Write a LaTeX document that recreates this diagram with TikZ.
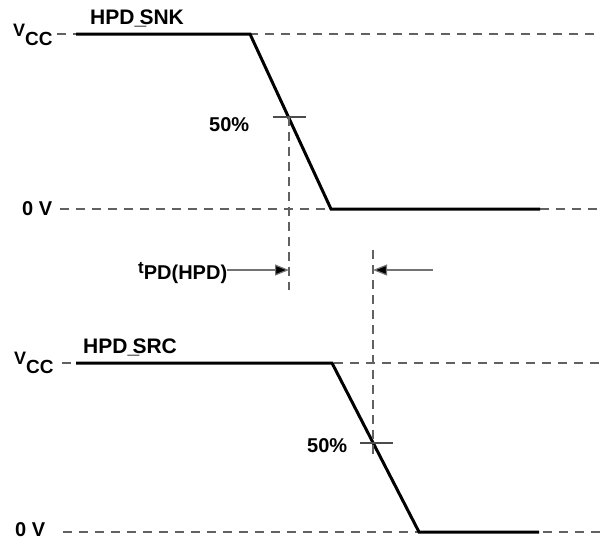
\documentclass[tikz,border=0pt]{standalone}
\usepackage{fontspec}
\setmainfont{Liberation Sans}
\usetikzlibrary{arrows.meta}
\begin{document}
\begin{tikzpicture}[x=1pt,y=-1pt,
  sig/.style={draw=black, line width=3pt, line join=miter},
  refline/.style={draw=black!62, line width=1.4pt, dash pattern=on 9pt off 7pt},
  guide/.style={draw=black!62, line width=1.2pt, dash pattern=on 9pt off 6pt},
  tickmark/.style={draw=black!70, line width=2pt},
  lbl/.style={inner sep=0pt, font=\bfseries\fontsize{20}{20}\selectfont, text=black},
  arr/.style={draw=black!55, line width=1.2pt, -{Triangle[length=14pt,width=11pt,fill=black]}},
]
\useasboundingbox (0,0) rectangle (601,544);

% ---------- top waveform (HPD_SNK) ----------
\coordinate (tvccL) at (57,34);  \coordinate (tvccR) at (601,34);
\coordinate (tgndL) at (60,209); \coordinate (tgndR) at (601,209);
\draw[refline] (tvccL) -- (tvccR);
\draw[refline] (tgndL) -- (tgndR);
\coordinate (s1) at (76,34);  \coordinate (s2) at (250,34);
\coordinate (s3) at (331,209); \coordinate (s4) at (540,209);
\draw[sig] (s1) -- (s2) -- (s3) -- (s4);
\coordinate (tk1a) at (273,117); \coordinate (tk1b) at (306,117);
\draw[tickmark] (tk1a) -- (tk1b);
\coordinate (g1t) at (289,117); \coordinate (g1b) at (289,290);
\draw[guide] (g1t) -- (g1b);

\node[lbl, anchor=base west, font=\bfseries\fontsize{21}{21}\selectfont] (snk) at (90,24) {HPD\rlap{\_}\kern5pt SNK};
\node[lbl, anchor=base west] (vcc1) at (13,36) {{\fontsize{18}{18}\selectfont V}\raisebox{-9pt}{\fontsize{19}{19}\selectfont CC}};
\node[lbl, anchor=base west] (gnd1) at (22,215) {0 V};
\node[lbl, anchor=base west] (p1) at (209,131) {50\%};

% ---------- propagation delay ----------
\node[lbl, anchor=base west] (tpd) at (138,279) {\raisebox{6pt}{\fontsize{17}{17}\selectfont t}PD(HPD)};
\coordinate (a1e) at (289,270);
\draw[arr] (tpd.east |- a1e) -- (a1e);
\coordinate (a2s) at (433,270); \coordinate (a2e) at (373,270);
\draw[arr] (a2s) -- (a2e);

% ---------- bottom waveform (HPD_SRC) ----------
\coordinate (bvccL) at (62,363);  \coordinate (bvccR) at (601,363);
\coordinate (bgndL) at (63,532);  \coordinate (bgndR) at (601,532);
\draw[refline] (bvccL) -- (bvccR);
\draw[refline] (bgndL) -- (bgndR);
\coordinate (r1) at (76,363);  \coordinate (r2) at (332,363);
\coordinate (r3) at (419,532); \coordinate (r4) at (539,532);
\draw[sig] (r1) -- (r2) -- (r3) -- (r4);
\coordinate (tk2a) at (360,443); \coordinate (tk2b) at (393,443);
\draw[tickmark] (tk2a) -- (tk2b);
\coordinate (g2t) at (373,250); \coordinate (g2b) at (373,455);
\draw[guide] (g2t) -- (g2b);

\node[lbl, anchor=base west, font=\bfseries\fontsize{21}{21}\selectfont] (src) at (83,353) {HPD\rlap{\_}\kern5pt SRC};
\node[lbl, anchor=base west] (vcc2) at (14,364) {{\fontsize{18}{18}\selectfont V}\raisebox{-9pt}{\fontsize{19}{19}\selectfont CC}};
\node[lbl, anchor=base west] (gnd2) at (15,536) {0 V};
\node[lbl, anchor=base west] (p2) at (307,452) {50\%};
\end{tikzpicture}
\end{document}
